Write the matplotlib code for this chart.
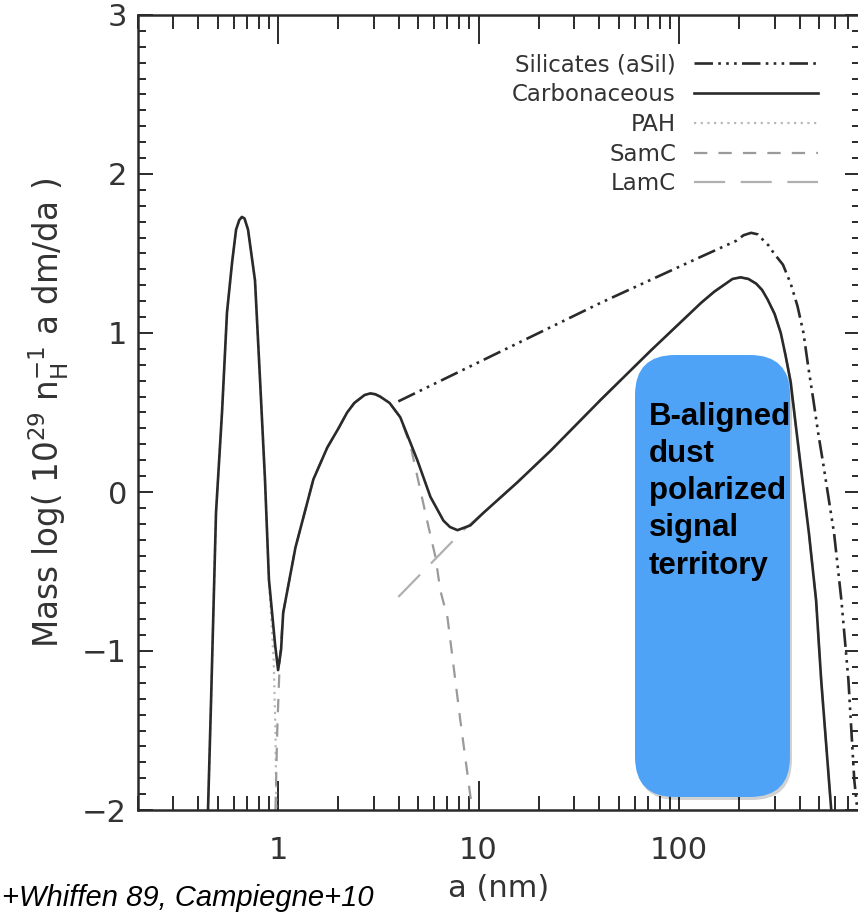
import matplotlib
matplotlib.use("Agg")
import matplotlib.pyplot as plt
from matplotlib.patches import FancyBboxPatch

# --- DATA ---
# grain radius a (nm) and log mass distribution
carb_a = [0.447, 0.463, 0.49, 0.525, 0.556, 0.589, 0.617, 0.64, 0.66, 0.68, 0.708, 0.767,
          0.813, 0.86, 0.90, 0.966, 1.0, 1.035, 1.06, 1.22, 1.50, 1.76, 2.0, 2.21, 2.4, 2.7,
          2.88, 3.05, 3.23, 3.6, 4.07, 4.95, 5.75, 6.68, 7.2, 7.85, 9.1, 10.6, 15.6, 22.9,
          40.7, 72.4, 129, 150, 171, 185, 203, 222, 243, 260, 277, 300, 322, 340, 361, 380,
          405, 445, 483, 512, 575]
carb_v = [-2.0, -1.31, -0.13, 0.50, 1.13, 1.44, 1.65, 1.71, 1.73, 1.72, 1.65, 1.33,
          0.70, 0.08, -0.55, -0.96, -1.12, -0.99, -0.76, -0.35, 0.08, 0.28, 0.40, 0.50, 0.56,
          0.61, 0.62, 0.615, 0.60, 0.56, 0.47, 0.20, -0.03, -0.18, -0.22, -0.24, -0.21, -0.13,
          0.06, 0.26, 0.58, 0.89, 1.19, 1.26, 1.31, 1.34, 1.35, 1.34, 1.31, 1.27, 1.21, 1.12,
          1.0, 0.86, 0.69, 0.45, 0.16, -0.26, -0.68, -1.18, -2.0]

sil_a = [3.98, 40.7, 129, 193, 210, 229, 248, 265, 280, 298, 330, 361, 390, 418, 440, 468,
         495, 527, 594, 646, 700, 749, 776]
sil_v = [0.57, 1.19, 1.48, 1.58, 1.615, 1.63, 1.62, 1.58, 1.55, 1.50, 1.43, 1.31, 1.17, 1.0,
         0.80, 0.58, 0.37, 0.16, -0.26, -0.68, -1.18, -1.81, -2.0]

pah_a = [0.447, 0.463, 0.49, 0.525, 0.556, 0.589, 0.617, 0.64, 0.66, 0.68, 0.708, 0.767,
         0.813, 0.86, 0.90, 0.95, 0.97, 0.98]
pah_v = [-2.0, -1.31, -0.13, 0.50, 1.13, 1.44, 1.65, 1.71, 1.73, 1.72, 1.65, 1.33,
         0.70, 0.08, -0.55, -1.05, -1.5, -2.0]

samc_a = [0.97, 0.99, 1.02, 1.06, 1.22, 1.50, 1.76, 2.0, 2.21, 2.4, 2.7, 2.88, 3.05, 3.23,
          3.6, 4.07, 4.6, 5.56, 6.1, 6.45, 7.0, 8.1, 9.3]
samc_v = [-2.0, -1.5, -1.05, -0.76, -0.35, 0.08, 0.28, 0.40, 0.50, 0.56, 0.61, 0.62, 0.615,
          0.60, 0.56, 0.47, 0.28, -0.19, -0.41, -0.62, -0.79, -1.43, -2.0]

lamc_a = [3.98, 8.4, 10.6, 15.6, 22.9, 40.7, 72.4, 129, 150, 171, 185, 203, 222, 243, 260,
          277, 300, 322, 340, 361, 380, 405, 445, 483, 512, 575]
lamc_v = [-0.66, -0.24, -0.13, 0.06, 0.26, 0.58, 0.89, 1.19, 1.26, 1.31, 1.34, 1.35, 1.34,
          1.31, 1.27, 1.21, 1.12, 1.0, 0.86, 0.69, 0.45, 0.16, -0.26, -0.68, -1.18, -2.0]

x_ticks = [1, 10, 100]
x_ticklabels = ["1", "10", "100"]
y_ticks = [-2, -1, 0, 1, 2, 3]
y_ticklabels = ["\u22122", "\u22121", "0", "1", "2", "3"]

box_text = "B-aligned\ndust\npolarized\nsignal\nterritory"
ref_text = "+Whiffen 89, Campiegne+10"

W, H = 858, 913
fig = plt.figure(figsize=(W / 100, H / 100), dpi=100)
ax = fig.add_axes([138 / W, 1 - 810 / H, (860 - 138) / W, (810 - 15) / H])

ink = "#2a2a2a"

# components first, total on top
ax.plot(pah_a, pah_v, color="#b8b8b8", lw=1.6, ls=(0, (1, 2)), label="PAH", zorder=2)
ax.plot(samc_a, samc_v, color="#9a9a9a", lw=1.6, ls=(0, (6, 5)), label="SamC", zorder=2)
ax.plot(lamc_a, lamc_v, color="#b0b0b0", lw=1.6, ls=(0, (14, 7)), label="LamC", zorder=2)
ax.plot(sil_a, sil_v, color=ink, lw=1.9, ls=(0, (7, 2, 1, 2, 1, 2, 1, 2)),
        label="Silicates (aSil)", zorder=3)
ax.plot(carb_a, carb_v, color=ink, lw=1.9, label="Carbonaceous", zorder=4)

ax.set_xscale("log")
ax.set_xlim(0.2, 800)
ax.set_ylim(-2, 3)
ax.set_xticks(x_ticks)
ax.set_xticklabels(x_ticklabels)
ax.set_yticks(y_ticks)
ax.set_yticklabels(y_ticklabels)
ax.yaxis.set_minor_locator(matplotlib.ticker.MultipleLocator(0.1))
ax.xaxis.set_minor_formatter(matplotlib.ticker.NullFormatter())

for s in ax.spines.values():
    s.set_linewidth(1.8)
    s.set_color(ink)

ax.tick_params(axis="both", which="both", direction="in", top=True, right=True,
               color=ink, width=1.4, labelsize=22, labelcolor="#333333")
ax.tick_params(axis="x", which="major", length=21, pad=19)
ax.tick_params(axis="x", which="minor", length=10)
ax.tick_params(axis="y", which="major", length=11, pad=8)
ax.tick_params(axis="y", which="minor", length=5.5)

ax.set_xlabel("a (nm)", fontsize=22, color="#333333", labelpad=6)
ax.set_ylabel(r"Mass log( 10$^{29}$ n$_{\mathrm{H}}^{-1}$ a dm/da )", fontsize=23.5,
              color="#333333", labelpad=8)

# legend: text right-aligned, line samples on the right
handles, labels = ax.get_legend_handles_labels()
order = [3, 4, 0, 1, 2]
leg = ax.legend([handles[i] for i in order], [labels[i] for i in order],
                loc="upper right", bbox_to_anchor=((818 - 138) / 722, 1 - (53 - 15) / 795),
                frameon=False, markerfirst=False, alignment="right", fontsize=16.5,
                handlelength=5.4, handletextpad=0.8, labelspacing=0.3,
                borderpad=0, borderaxespad=0)
for t in leg.get_texts():
    t.set_color("#333333")

# blue overlay box (positioned in pixels via inches)
tr = fig.dpi_scale_trans
bx, by, bw, bh = 635, 797, 155, 442
shadow = FancyBboxPatch(((bx + 2) / 100, (H - by - 3) / 100), bw / 100, bh / 100,
                        boxstyle="round,pad=0,rounding_size=0.4", transform=tr,
                        facecolor="#000000", alpha=0.18, edgecolor="none", zorder=5)
box = FancyBboxPatch((bx / 100, (H - by) / 100), bw / 100, bh / 100,
                     boxstyle="round,pad=0,rounding_size=0.4", transform=tr,
                     facecolor="#4fa3f7", edgecolor="none", zorder=6)
fig.add_artist(shadow)
fig.add_artist(box)
fig.text(649 / W, 1 - 402 / H, box_text, fontsize=22.5, fontweight="bold",
         family="Liberation Sans", color="black", ha="left", va="top",
         linespacing=1.31, zorder=7)

fig.text(2 / W, 7 / H, ref_text, fontsize=21, style="italic",
         family="Liberation Sans", color="black", ha="left", va="baseline")

fig.savefig("out.png", dpi=100)
